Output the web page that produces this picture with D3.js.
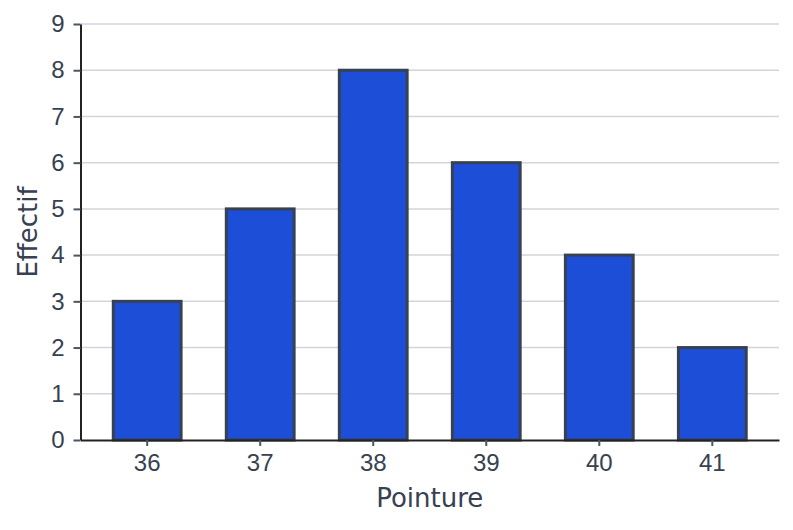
<!DOCTYPE html>
<html><head><meta charset="utf-8">
<script src="https://cdn.jsdelivr.net/npm/d3@7"></script>
<style>body{margin:0;background:#fff}svg{display:block}</style>
</head><body>
<script>
const categories = ["36","37","38","39","40","41"];
const values = [3,5,8,6,4,2];
const yTicks = [0,1,2,3,4,5,6,7,8,9];

const W=793,H=530;
const m={left:80.5,right:14,top:24,bottom:90};
const svg=d3.select("body").append("svg").attr("width",W).attr("height",H)
  .style("font-family","DejaVu Sans, sans-serif");
const x=d3.scaleBand().domain(categories).range([m.left,W-m.right]).paddingInner(0.4).paddingOuter(0.29);
const y=d3.scaleLinear().domain([0,9]).range([H-m.bottom,m.top]);

// grid
svg.append("g").selectAll("line").data(yTicks.filter(d=>d>0)).join("line")
  .attr("x1",m.left).attr("x2",W-m.right).attr("y1",d=>y(d)).attr("y2",d=>y(d))
  .attr("stroke","#d1d5db").attr("stroke-width",1.5);

// bars
svg.append("g").selectAll("rect").data(values).join("rect")
  .attr("x",(d,i)=>x(categories[i])).attr("width",x.bandwidth())
  .attr("y",d=>y(d)).attr("height",d=>y(0)-y(d))
  .attr("fill","#1d4ed8").attr("stroke","#374151").attr("stroke-width",3);

// y axis
const ya=svg.append("g").attr("transform",`translate(${m.left},0)`)
  .call(d3.axisLeft(y).tickValues(yTicks).tickSize(7).tickPadding(9).tickSizeOuter(0));
ya.select(".domain").attr("stroke","#222").attr("stroke-width",2);
ya.selectAll(".tick line").attr("stroke","#4b5563").attr("stroke-width",2);
ya.selectAll("text").attr("fill","#374151").style("font-size","24px");

// x axis
const xa=svg.append("g").attr("transform",`translate(0,${y(0)})`)
  .call(d3.axisBottom(x).tickSize(6).tickPadding(8).tickSizeOuter(0));
xa.select(".domain").attr("stroke","#222").attr("stroke-width",2);
xa.selectAll(".tick line").attr("stroke","#4b5563").attr("stroke-width",2);
xa.selectAll("text").attr("fill","#374151").style("font-size","24px");

svg.append("text").attr("x",(m.left+W-m.right)/2).attr("y",507).attr("text-anchor","middle")
  .attr("fill","#374151").style("font-size","26px").text("Pointure");
svg.append("text").attr("transform",`translate(37,${(m.top+H-m.bottom)/2}) rotate(-90)`).attr("text-anchor","middle")
  .attr("fill","#374151").style("font-size","26px").text("Effectif");
</script>
</body></html>
